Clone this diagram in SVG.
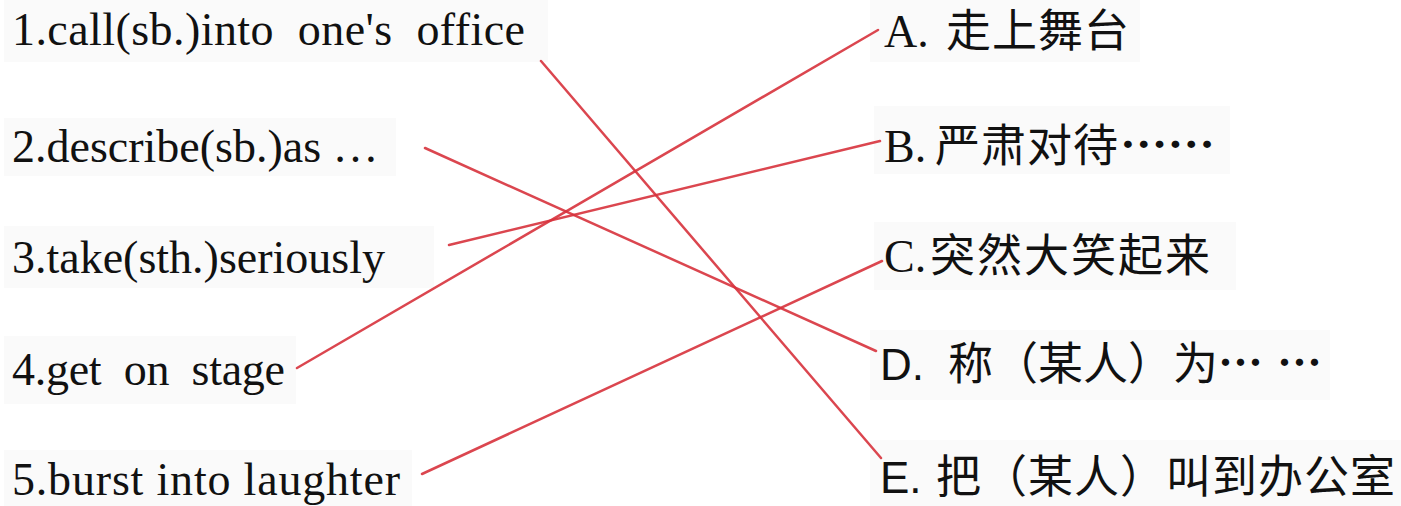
<svg xmlns="http://www.w3.org/2000/svg" width="1401" height="506" viewBox="0 0 1401 506">
<style>
.bg{fill:#fafafa}
.en{font-family:'Liberation Serif','Times New Roman','DejaVu Serif',serif;font-size:46px;fill:#111}
.lt{font-family:'Liberation Serif','Times New Roman','DejaVu Serif',serif;font-size:46px;fill:#111}
.ls{font-family:'Liberation Sans',Arial,sans-serif;font-size:44px;fill:#111}
.zh{font-family:'Noto Sans CJK SC','Noto Sans',sans-serif;font-size:45px;fill:#111}
.conn line{stroke:#d8333d;stroke-width:2.5;stroke-linecap:round;opacity:0.9}
</style>
<rect width="1401" height="506" fill="#ffffff"/>
<g id="left1"><rect class="bg" x="4" y="0" width="544" height="62"/><text class="en" font-family="Liberation Serif, serif" x="12" y="45" xml:space="preserve" textLength="513" lengthAdjust="spacing">1.call(sb.)into  one's  office</text></g>
<g id="left2"><rect class="bg" x="4" y="118" width="392" height="58"/><text class="en" font-family="Liberation Serif, serif" x="12" y="162" xml:space="preserve">2.describe(sb.)as …</text></g>
<g id="left3"><rect class="bg" x="4" y="226" width="430" height="62"/><text class="en" font-family="Liberation Serif, serif" x="12" y="273">3.take(sth.)seriously</text></g>
<g id="left4"><rect class="bg" x="4" y="336" width="292" height="68"/><text class="en" font-family="Liberation Serif, serif" x="12" y="385" xml:space="preserve" textLength="273" lengthAdjust="spacing">4.get  on  stage</text></g>
<g id="left5"><rect class="bg" x="4" y="450" width="408" height="56"/><text class="en" font-family="Liberation Serif, serif" x="12" y="495" xml:space="preserve" textLength="388" lengthAdjust="spacing">5.burst into laughter</text></g>
<g id="A"><rect class="bg" x="870" y="0" width="270" height="62"/><text class="lt" font-family="Liberation Serif, serif" x="884" y="47">A.</text><text class="zh" x="946" y="47" letter-spacing="1">走上舞台</text></g>
<g id="B"><rect class="bg" x="874" y="106" width="356" height="68"/><text class="lt" font-family="Liberation Serif, serif" x="884" y="162">B.</text><text class="zh" x="935" y="162" letter-spacing="1">严肃对待</text><text class="zh" x="1120" y="162" font-weight="bold" textLength="95" lengthAdjust="spacingAndGlyphs">……</text></g>
<g id="C"><rect class="bg" x="874" y="222" width="362" height="68"/><text class="lt" font-family="Liberation Serif, serif" x="884" y="272">C.</text><text class="zh" x="930" y="272" letter-spacing="2">突然大笑起来</text></g>
<g id="D"><rect class="bg" x="870" y="330" width="460" height="70"/><text class="ls" x="880" y="380">D.</text><text class="zh" x="948" y="380">称（某人）为</text><text class="zh" x="1218" y="380" font-weight="bold" xml:space="preserve" textLength="104" lengthAdjust="spacing">⋯ ⋯</text></g>
<g id="E"><rect class="bg" x="870" y="440" width="531" height="66"/><text class="ls" x="880" y="493">E.</text><text class="zh" x="936" y="493" letter-spacing="1">把（某人）叫到办公室</text></g>
<g id="connectors" class="conn">
<line x1="541" y1="61" x2="881" y2="458"/>
<line x1="425" y1="148" x2="876" y2="351"/>
<line x1="449" y1="245" x2="880" y2="141"/>
<line x1="297" y1="368" x2="878" y2="30"/>
<line x1="422" y1="474" x2="882" y2="261"/>
</g>
</svg>
